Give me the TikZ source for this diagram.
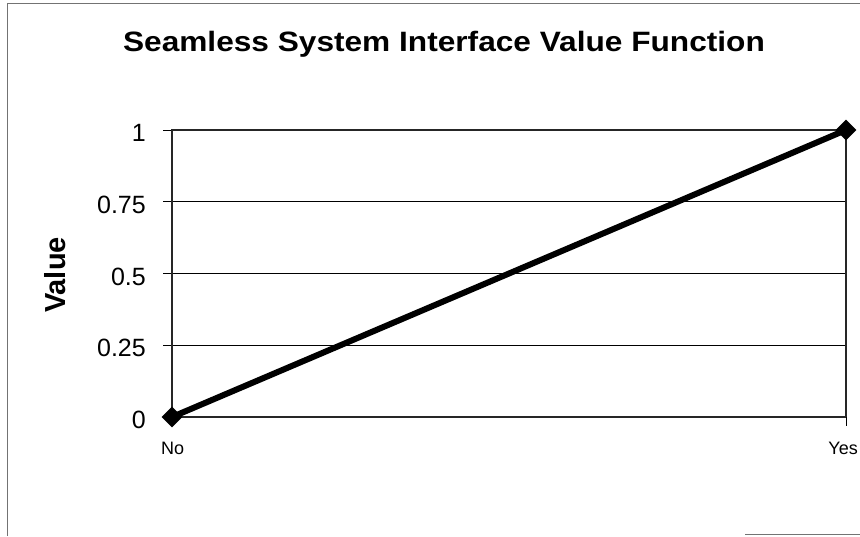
\documentclass[tikz,border=0pt]{standalone}
\usepackage{fontspec}
\setmainfont{Liberation Sans}
\usetikzlibrary{shapes.geometric,positioning}

\begin{document}
\begin{tikzpicture}[%
  x=1pt,y=-1pt,
  outer/.style={draw=black!55,line width=0.8pt},
  plotarea/.style={draw=black!85,line width=1.4pt},
  gridline/.style={draw=black,line width=0.9pt},
  ticklabel/.style={anchor=east,inner sep=0pt,font=\fontsize{25}{25}\selectfont},
  catlabel/.style={inner sep=0pt,font=\fontsize{18}{18}\selectfont},
  datapt/.style={diamond,fill=black,minimum size=21pt,inner sep=0pt},
  series/.style={line width=6pt}]
    \useasboundingbox (0,0) rectangle (860,536);
    % Frame
    \draw[outer] (7,536) -- (7,3) -- (860,3);
    \draw[outer] (745,534) -- (860,534);
    \node (title) at (444,44) {\scalebox{1.13}[1]{\fontsize{28}{28}\selectfont\bfseries Seamless System Interface Value Function}};
    % Plot area and grid
    \coordinate (origin) at (172,417);
    \coordinate (corner) at (846,130);
    \foreach \yv/\lab in {417/0,345.25/0.25,273.5/0.5,201.75/0.75,130/1}{
      \draw[gridline] (163,\yv) -- (846,\yv);
      \node[ticklabel] (tick\lab) at (146,\yv+3) {\lab};
    }
    \draw[plotarea] (origin) rectangle (corner);
    \draw[gridline] (origin) -- ++(0,9);
    \draw[gridline] (846,417) -- ++(0,9);
    % Axis labels
    \node[rotate=90,font=\fontsize{29}{29}\selectfont\bfseries] (ylab) at (55,275) {Value};
    \node[catlabel,anchor=west] (catno) at (161,448) {No};
    \node[catlabel,anchor=east] (catyes) at (858,448) {Yes};
    % Data
    \node[datapt] (ptno) at (origin) {};
    \node[datapt] (ptyes) at (corner) {};
    \draw[series] (ptno.center) -- (ptyes.center);
\end{tikzpicture}
\end{document}
